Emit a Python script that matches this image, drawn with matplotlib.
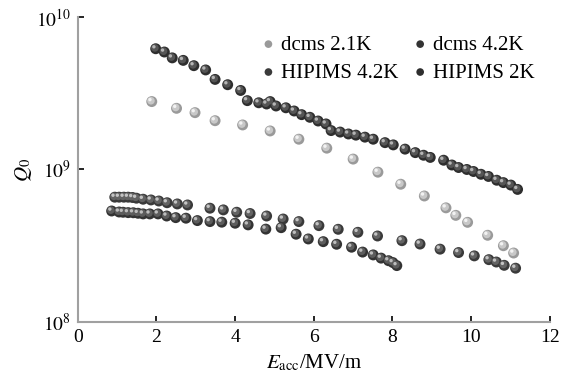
# plot.py - Q0 vs Eacc, dcms / HIPIMS cavities

import matplotlib
matplotlib.use("Agg")
import matplotlib.pyplot as plt
import matplotlib.transforms as mtransforms
from matplotlib.ticker import FixedLocator, NullLocator

#==================================================================================================================

labels = ["dcms 2.1K", "dcms 4.2K", "HIPIMS 4.2K", "HIPIMS 2K"]

dcms_21_x = [1.88, 2.51, 2.98, 3.49, 4.19, 4.89, 5.62, 6.33, 7.00, 7.63, 8.21, 8.81,
             9.36, 9.61, 9.91, 10.42, 10.82, 11.08]
dcms_21_q = [2.79e9, 2.52e9, 2.36e9, 2.09e9, 1.96e9, 1.79e9, 1.58e9, 1.38e9, 1.17e9, 9.6e8,
             8.0e8, 6.7e8, 5.6e8, 5.0e8, 4.5e8, 3.7e8, 3.16e8, 2.83e8]

dcms_42_x = [0.86, 1.05, 1.15, 1.28, 1.41, 1.53, 1.66, 1.83, 2.04, 2.26, 2.49, 2.75, 3.04,
             3.36, 3.66, 4.00, 4.33, 4.78, 5.17, 5.55, 5.86, 6.24, 6.58, 6.96, 7.24, 7.51,
             7.71, 7.90, 8.01, 8.11]
dcms_42_q = [5.34e8, 5.26e8, 5.24e8, 5.21e8, 5.20e8, 5.16e8, 5.11e8, 5.11e8, 5.11e8, 4.95e8,
             4.83e8, 4.79e8, 4.62e8, 4.55e8, 4.51e8, 4.44e8, 4.33e8, 4.06e8, 4.15e8, 3.76e8,
             3.50e8, 3.36e8, 3.23e8, 3.09e8, 2.87e8, 2.75e8, 2.62e8, 2.52e8, 2.45e8, 2.34e8]

hipims_42_x = [0.94, 1.05, 1.17, 1.28, 1.39, 1.49, 1.66, 1.86, 2.06, 2.27, 2.53, 2.79, 3.36,
               3.70, 4.04, 4.38, 4.80, 5.22, 5.62, 6.13, 6.62, 7.12, 7.62, 8.24, 8.70, 9.21,
               9.68, 10.08, 10.45, 10.64, 10.84, 11.13]
hipims_42_q = [6.58e8, 6.58e8, 6.58e8, 6.58e8, 6.55e8, 6.48e8, 6.38e8, 6.31e8, 6.21e8, 6.05e8,
               5.94e8, 5.85e8, 5.57e8, 5.43e8, 5.24e8, 5.14e8, 4.95e8, 4.73e8, 4.55e8, 4.28e8,
               4.05e8, 3.87e8, 3.66e8, 3.41e8, 3.24e8, 3.00e8, 2.85e8, 2.71e8, 2.56e8, 2.47e8,
               2.35e8, 2.25e8]

hipims_2_x = [1.98, 2.20, 2.40, 2.68, 2.95, 3.25, 3.49, 3.81, 4.14, 4.31, 4.60, 4.80, 4.89,
              5.04, 5.29, 5.50, 5.69, 5.90, 6.11, 6.31, 6.44, 6.67, 6.88, 7.07, 7.30, 7.51,
              7.81, 8.02, 8.32, 8.58, 8.79, 8.96, 9.30, 9.51, 9.68, 9.89, 10.06, 10.25,
              10.44, 10.65, 10.82, 11.01, 11.18]
hipims_2_q = [6.2e9, 5.9e9, 5.4e9, 5.2e9, 4.8e9, 4.5e9, 3.9e9, 3.6e9, 3.3e9, 2.83e9, 2.74e9,
              2.69e9, 2.79e9, 2.61e9, 2.54e9, 2.42e9, 2.29e9, 2.20e9, 2.08e9, 1.99e9, 1.80e9,
              1.76e9, 1.71e9, 1.68e9, 1.63e9, 1.58e9, 1.50e9, 1.45e9, 1.36e9, 1.29e9, 1.24e9,
              1.20e9, 1.15e9, 1.07e9, 1.03e9, 1.00e9, 9.7e8, 9.3e8, 9.0e8, 8.5e8, 8.2e8,
              7.9e8, 7.4e8]

x_ticks = [0, 2, 4, 6, 8, 10, 12]
y_ticks = [1e8, 1e9, 1e10]
y_tick_labels = [r"$10^{8}$", r"$10^{9}$", r"$10^{10}$"]

#==================================================================================================================

def ball(ax, fig, x, q, base, mid, light, label):
    """
    Draws shaded 'sphere' markers: dark base, lighter body, small highlight.
    Returns the base collection (used as legend handle).
    """
    h = ax.scatter(x, q, s=62, color=base, edgecolors="none", zorder=3, label=label)
    shift = mtransforms.offset_copy(ax.transData, fig=fig, x=-0.6, y=0.6, units="points")
    ax.scatter(x, q, s=30, color=mid, edgecolors="none", zorder=4, transform=shift)
    shift2 = mtransforms.offset_copy(ax.transData, fig=fig, x=-1.3, y=1.4, units="points")
    ax.scatter(x, q, s=6, color=light, edgecolors="none", zorder=5, transform=shift2)
    return h

#==================================================================================================================

def main():
    plt.rcParams["font.family"] = ["Liberation Serif", "DejaVu Serif"]
    plt.rcParams["mathtext.fontset"] = "stix"

    fig = plt.figure(figsize=(5.68, 3.8), dpi=100)
    ax = fig.add_axes([0.137, 0.153, 0.831, 0.802])

    h1 = ball(ax, fig, dcms_21_x, dcms_21_q, "#9a9a9a", "#c8c8c8", "#f2f2f2", labels[0])
    h2 = ball(ax, fig, dcms_42_x, dcms_42_q, "#333333", "#5c5c5c", "#bdbdbd", labels[1])
    h3 = ball(ax, fig, hipims_42_x, hipims_42_q, "#3a3a3a", "#636363", "#c4c4c4", labels[2])
    h4 = ball(ax, fig, hipims_2_x, hipims_2_q, "#2e2e2e", "#555555", "#b5b5b5", labels[3])

    ax.set_yscale("log")
    ax.set_xlim(0, 12)
    ax.set_ylim(1e8, 1e10)
    ax.xaxis.set_major_locator(FixedLocator(x_ticks))
    ax.set_xticklabels([str(t) for t in x_ticks])
    ax.yaxis.set_major_locator(FixedLocator(y_ticks))
    ax.yaxis.set_minor_locator(NullLocator())
    ax.set_yticklabels(y_tick_labels)

    for side in ["top", "right"]:
        ax.spines[side].set_visible(False)
    for side in ["left", "bottom"]:
        ax.spines[side].set_color("#a0a0a0")
        ax.spines[side].set_linewidth(1.5)

    ax.tick_params(axis="both", which="major", direction="in", length=4, width=1.2,
                   color="black", labelsize=14, pad=5)

    ax.set_xlabel(r"$E_{\mathrm{acc}}$/MV/m", fontsize=15, labelpad=5)
    ax.set_ylabel(r"$Q_0$", fontsize=15, labelpad=1)

    # column-wise fill -> rows read: dcms 2.1K, dcms 4.2K / HIPIMS 4.2K, HIPIMS 2K
    handles = [h1, h3, h2, h4]
    ax.legend(handles, [h.get_label() for h in handles],
              loc="upper left", bbox_to_anchor=(258 / 568, 1 - 35 / 380),
              bbox_transform=fig.transFigure, ncol=2, frameon=False, fontsize=15,
              markerscale=0.7, handletextpad=0.1, columnspacing=0.55,
              borderaxespad=0, borderpad=0, labelspacing=0.4, handlelength=1.0)

    fig.savefig("out.png", dpi=100)
    plt.close(fig)

#==================================================================================================================
if __name__ == "__main__":
    main()
